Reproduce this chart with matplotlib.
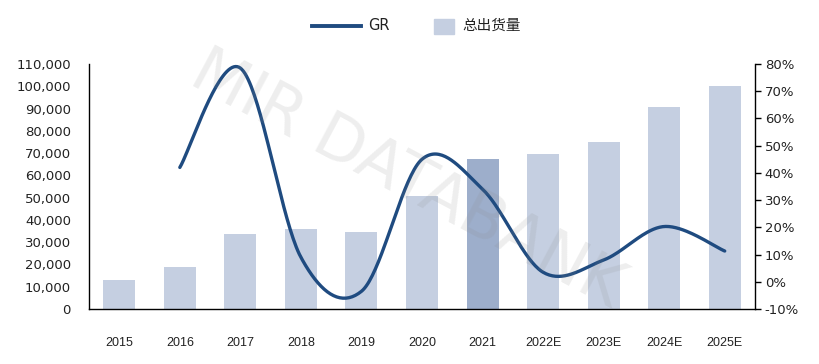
import numpy as np
import matplotlib
matplotlib.use("Agg")
import matplotlib.pyplot as plt
from matplotlib.lines import Line2D
from matplotlib.patches import Rectangle

plt.rcParams['font.family'] = ['DejaVu Sans', 'Noto Sans CJK SC']

categories = ['2015', '2016', '2017', '2018', '2019', '2020', '2021',
              '2022E', '2023E', '2024E', '2025E']
shipments = [13000, 19000, 33800, 36000, 34600, 50700, 67400,
             69600, 75000, 90700, 100200]
gr_years = ['2016', '2017', '2018', '2019', '2020', '2021',
            '2022E', '2023E', '2024E', '2025E']
gr_values = [42, 78.5, 9, -3.5, 45, 34, 3.5, 8, 20.3, 11.3]

left_ticks = list(range(0, 110001, 10000))
right_ticks = list(range(-10, 81, 10))

bar_color = '#c5cfe1'
bar_hi = '#9daecb'
line_color = '#1f4b80'

W, H = 820, 364
fig = plt.figure(figsize=(W/100, H/100), dpi=100)
ax = fig.add_axes([89/W, 1-309/H, (755-89)/W, (309-64)/H])
x = np.arange(len(categories))
colors = [bar_hi if c == '2021' else bar_color for c in categories]
ax.bar(x, shipments, width=0.53, color=colors, zorder=2)
ax.set_xlim(-0.5, len(categories)-0.5)
ax.set_ylim(0, 110000)
ax.set_yticks(left_ticks)
ax.set_yticklabels([f'{v:,}' for v in left_ticks], fontsize=9.5, color='#222222')
ax.set_xticks(x)
ax.set_xticklabels(categories, color='#222222', family='Liberation Sans', fontsize=9)
ax.tick_params(axis='x', length=0, pad=20)
ax.tick_params(axis='y', length=0, pad=13)
for s in ['top', 'right']:
    ax.spines[s].set_visible(False)
ax.spines['left'].set_linewidth(1.0)
ax.spines['bottom'].set_linewidth(1.0)

ax2 = ax.twinx()
ax2.set_ylim(-10, 80)
ax2.set_yticks(right_ticks)
ax2.set_yticklabels([f'{v}%' for v in right_ticks], fontsize=9.5, color='#222222')
ax2.tick_params(axis='y', length=4, width=1, pad=3)
for s in ['top', 'left', 'bottom']:
    ax2.spines[s].set_visible(False)
ax2.spines['right'].set_linewidth(1.0)

# Excel-style smoothed line through the points (in display-scaled space)
gx = np.array([categories.index(c) for c in gr_years], dtype=float)
gy = np.array(gr_values, dtype=float)
sx, sy = 60.5, 2.72
P = np.column_stack([gx * sx, gy * sy])
curve = []
n = len(P)
for i in range(n-1):
    p0 = P[i-1] if i > 0 else P[i]
    p1 = P[i]
    p2 = P[i+1]
    p3 = P[i+2] if i+2 < n else P[i+1]
    c1 = p1 + (p2 - p0) / 6
    c2 = p2 - (p3 - p1) / 6
    t = np.linspace(0, 1, 40)[:, None]
    seg = (1-t)**3*p1 + 3*(1-t)**2*t*c1 + 3*(1-t)*t**2*c2 + t**3*p2
    curve.append(seg if i == 0 else seg[1:])
curve = np.vstack(curve)
ax2.plot(curve[:, 0]/sx, curve[:, 1]/sy, color=line_color, lw=2.4,
         solid_capstyle='round', zorder=3)

ax.set_zorder(1)
ax2.set_zorder(2)
ax.patch.set_visible(False)

fig.text(407/W, 1-180/H, 'MIR DATABANK', fontsize=46, color='#888888', alpha=0.14,
         rotation=-28, ha='center', va='center', zorder=10,
         family=['DejaVu Sans'])

# legend drawn manually to match the reference layout
ly = 1 - 26/H
fig.add_artist(Line2D([312/W, 361/W], [ly, ly], color=line_color, lw=2.8,
                      transform=fig.transFigure))
fig.text(368/W, ly, 'GR', fontsize=10.5, color='#222222', va='center', ha='left')
fig.add_artist(Rectangle((434/W, 1-34/H), 20/W, 15/H, color=bar_color,
                         transform=fig.transFigure))
fig.text(462/W, ly, '总出货量', fontsize=10.5, color='#222222', va='center', ha='left',
         family=['Noto Sans CJK SC', 'DejaVu Sans'])

fig.savefig('out.png', dpi=100)
